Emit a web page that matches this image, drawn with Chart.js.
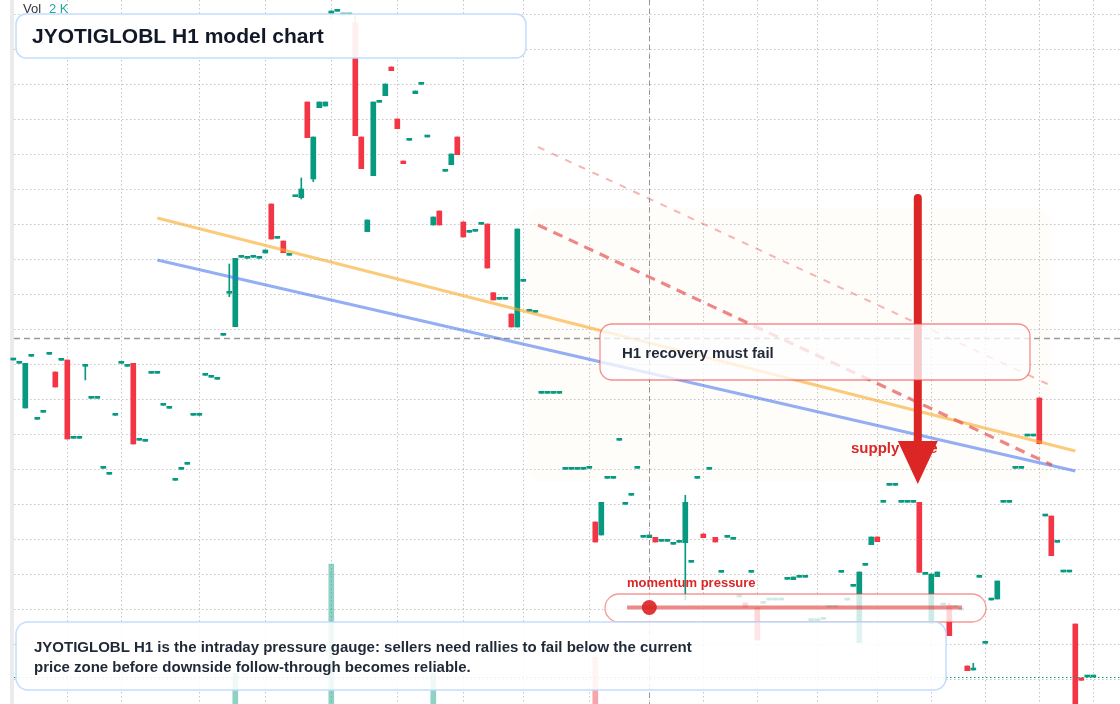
<!DOCTYPE html>
<html>
<head>
<meta charset="utf-8">
<title>JYOTIGLOBL H1 model chart</title>
<script src="https://cdn.jsdelivr.net/npm/chart.js@4.4.1/dist/chart.umd.min.js"></script>
<style>
  html, body { margin: 0; padding: 0; background: #fff; }
  #wrap { width: 1120px; height: 704px; position: relative; }
</style>
</head>
<body>
<div id="wrap"><canvas id="chart" width="1120" height="704"></canvas></div>
<script>
'use strict';

const UP = '#089981', DOWN = '#f23645';

// candle open / close per hourly bar (index = bar number)
const opens = [
  84.0, 83.67, 79.2, 84.37, 78.07, 78.77, 84.57, 82.8, 83.97, 84.0,
  76.17, 76.17, 83.37, 80.17, 80.17, 73.17, 72.57, 78.47, 83.67, 83.37,
  83.67, 75.97, 75.87, 82.67, 82.67, 79.47, 79.17, 71.97, 73.07, 73.57,
  78.47, 78.47, 82.47, 82.27, 82.07, 86.47, 90.67, 87.33, 94.27, 94.17,
  94.27, 94.17, 94.7, 99.6, 96.17, 95.9, 94.47, 100.33, 100.23, 109.8,
  102.1, 109.23, 109.4, 118.63, 118.87, 118.5, 118.5, 117.73, 106.3, 96.83,
  102.43, 109.77, 110.43, 113.3, 108.1, 103.9, 105.97, 110.63, 111.57, 106.3,
  97.5, 98.9, 102.87, 103.53, 106.3, 97.8, 96.77, 96.87, 97.57, 97.6,
  90.73, 90.07, 90.07, 88.6, 87.3, 91.87, 88.87, 88.77, 80.67, 80.67,
  80.67, 80.67, 73.07, 73.07, 73.07, 73.07, 73.17, 67.8, 66.5, 72.17,
  72.17, 75.97, 69.57, 70.47, 73.17, 66.27, 66.23, 66.27, 65.87, 65.87,
  65.57, 65.77, 65.73, 63.77, 72.17, 66.6, 73.07, 66.27, 62.77, 66.27,
  66.07, 60.3, 59.7, 62.77, 59.23, 59.67, 60.0, 60.0, 60.0, 62.07,
  62.03, 62.27, 62.27, 57.93, 57.93, 58.07, 59.27, 59.27, 62.77, 60.0,
  61.37, 55.73, 63.47, 65.53, 66.3, 69.77, 71.47, 71.47, 69.77, 69.77,
  69.77, 69.77, 62.57, 57.67, 62.33, 59.5, 59.47, 59.27, 59.0, 53.4,
  53.0, 62.27, 55.67, 60.0, 60.1, 69.77, 69.77, 73.17, 73.17, 76.4,
  76.4, 80.2, 68.4, 68.4, 65.77, 62.8, 62.8, 57.6, 52.2, 52.3, 52.3
];
const closes = [
  84.0, 83.67, 83.67, 84.37, 78.07, 78.77, 84.57, 81.3, 83.97, 76.1,
  76.17, 76.17, 83.37, 80.17, 80.17, 73.17, 72.57, 78.47, 83.67, 83.37,
  75.6, 75.97, 75.87, 82.67, 82.67, 79.47, 79.17, 71.97, 73.07, 73.57,
  78.47, 78.47, 82.47, 82.27, 82.07, 86.47, 90.67, 94.17, 94.27, 94.17,
  94.27, 94.17, 95.0, 96.1, 96.17, 94.73, 94.47, 100.33, 101.1, 106.23,
  106.3, 109.8, 109.8, 118.9, 118.87, 118.5, 118.5, 106.43, 103.13, 98.0,
  109.8, 109.77, 111.6, 112.93, 107.13, 103.63, 105.97, 110.9, 111.57, 106.3,
  98.3, 97.5, 102.87, 104.6, 104.53, 96.3, 96.77, 96.87, 97.57, 93.2,
  90.0, 90.07, 90.07, 87.3, 97.1, 91.87, 88.87, 88.77, 80.67, 80.67,
  80.67, 80.67, 73.07, 73.07, 73.07, 73.07, 73.17, 65.8, 69.77, 72.17,
  72.17, 75.97, 69.57, 70.47, 73.17, 66.27, 66.5, 65.8, 65.87, 65.87,
  65.57, 65.77, 69.77, 63.77, 72.17, 66.23, 73.07, 65.8, 62.77, 66.27,
  66.07, 60.3, 59.3, 62.77, 56.0, 59.67, 60.0, 60.0, 60.0, 62.07,
  62.3, 62.27, 62.27, 57.93, 57.93, 58.07, 59.27, 59.27, 62.77, 60.0,
  61.37, 62.8, 63.47, 66.3, 65.83, 69.77, 71.47, 71.47, 69.77, 69.77,
  69.77, 62.77, 62.57, 62.6, 62.8, 59.5, 56.43, 59.27, 59.0, 52.93,
  53.0, 62.27, 55.67, 60.0, 61.9, 69.77, 69.77, 73.17, 73.17, 76.4,
  76.4, 75.63, 68.4, 64.43, 65.77, 62.8, 62.8, 49.0, 51.97, 52.3, 52.3
];
// bars whose wicks poke out of the body
const wickIdx  = [12, 36, 48, 50, 53, 57, 112, 156, 160];
const wickHigh = [83.5, 93.6, 102.2, 106.3, 118.9, 118.5, 70.47, 59.67, 53.67];
const wickLow  = [82.0, 90.33, 100.1, 101.83, 118.2, 106.43, 60.0, 56.43, 53.0];

// volume (only the visible spikes)
const volIdx = [37, 53, 70, 97];
const volume = [440, 2000, 440, 670];

// drawn levels
const trendX = [24, 177];
const orangeTrend = [98.2, 74.9];
const blueTrend = [94.0, 72.9];
const fadeX = [87.45, 173.1];
const fadeUpper = [105.3, 81.4];
const fadeLower = [97.5, 73.5];
const zoneX = [85.6, 173.1];
const zonePrice = [99.2, 71.8];
const arrowX = 150.75, arrowFrom = 100.2, arrowTo = 71.6;
const crossIdx = 106, crossPrice = 86.2, lastPrice = 52.3;
const momentumX = [102.3, 158.1];

// session separators and price grid
const gridIdx = [9, 18, 31, 42, 53, 64, 75, 85, 96, 106, 115, 124, 134, 144, 153, 162, 171, 180];
const gridStart = 52.1, gridStep = 3.5;

const idx = opens.map((_, i) => i);
const highs = idx.map(i => Math.max(opens[i], closes[i]));
const lows = idx.map(i => Math.min(opens[i], closes[i]));
wickIdx.forEach((k, j) => { highs[k] = wickHigh[j]; lows[k] = wickLow[j]; });
const colorOf = i => closes[i] >= opens[i] ? UP : DOWN;

function rr(ctx, x, y, w, h, r) {
  ctx.beginPath();
  ctx.moveTo(x + r, y);
  ctx.arcTo(x + w, y, x + w, y + h, r);
  ctx.arcTo(x + w, y + h, x, y + h, r);
  ctx.arcTo(x, y + h, x, y, r);
  ctx.arcTo(x, y, x + w, y, r);
  ctx.closePath();
}
function seg(ctx, x1, y1, x2, y2) {
  ctx.beginPath(); ctx.moveTo(x1, y1); ctx.lineTo(x2, y2); ctx.stroke();
}

const FONT = '"Liberation Sans", Arial, Helvetica, sans-serif';

const overlay = {
  id: 'overlay',
  beforeDatasetsDraw(chart) {
    const { ctx, scales: { x, y } } = chart;
    const W = chart.width, H = chart.height;
    ctx.save();
    ctx.fillStyle = '#ebebeb';
    ctx.fillRect(10, 0, 4, H);

    // supply zone shading
    const zx0 = x.getPixelForValue(zoneX[0]), zx1 = x.getPixelForValue(zoneX[1]);
    const zy0 = y.getPixelForValue(zonePrice[0]), zy1 = y.getPixelForValue(zonePrice[1]);
    ctx.fillStyle = 'rgba(245,158,11,0.018)';
    rr(ctx, zx0, zy0, zx1 - zx0, zy1 - zy0, 16);
    ctx.fill();

    // dotted grid
    ctx.strokeStyle = 'rgba(0,0,0,0.22)';
    ctx.lineWidth = 1;
    ctx.setLineDash([1.5, 2.5]);
    gridIdx.forEach(k => {
      const px = Math.round(x.getPixelForValue(k)) + 0.5;
      seg(ctx, px, 0, px, H);
    });
    for (let p = gridStart; p <= y.max; p += gridStep) {
      const py = Math.round(y.getPixelForValue(p)) + 0.5;
      seg(ctx, 14, py, W, py);
    }
    ctx.restore();
  },
  afterDatasetsDraw(chart) {
    const { ctx, scales: { x, y } } = chart;
    const W = chart.width, H = chart.height;
    ctx.save();

    // last price line
    const ly = Math.round(y.getPixelForValue(lastPrice)) + 0.5;
    ctx.strokeStyle = UP; ctx.lineWidth = 1.2; ctx.setLineDash([1.5, 2.5]);
    seg(ctx, 14, ly, W, ly);

    // crosshair
    const cx = Math.round(x.getPixelForValue(crossIdx)) + 0.5;
    const cy = Math.round(y.getPixelForValue(crossPrice)) + 0.5;
    ctx.strokeStyle = 'rgba(120,120,120,0.75)';
    ctx.setLineDash([5, 4]); ctx.lineWidth = 1;
    seg(ctx, cx, 0, cx, H);
    ctx.lineWidth = 1.4; ctx.setLineDash([6, 4]);
    seg(ctx, 14, cy, W, cy);
    ctx.setLineDash([]);

    // supply zone label, under the arrow head
    ctx.font = 'bold 15px ' + FONT;
    ctx.fillStyle = '#dc2626';
    ctx.textBaseline = 'middle';
    ctx.fillText('supply zone', 851, 449);

    // arrow
    const ax = x.getPixelForValue(arrowX);
    const ay0 = y.getPixelForValue(arrowFrom), ay1 = y.getPixelForValue(arrowTo);
    ctx.strokeStyle = '#dc2626'; ctx.fillStyle = '#dc2626';
    ctx.lineWidth = 8; ctx.lineCap = 'round';
    seg(ctx, ax, ay0, ax, ay1 - 40);
    ctx.lineCap = 'butt';
    ctx.beginPath();
    ctx.moveTo(ax - 20, ay1 - 43); ctx.lineTo(ax + 20, ay1 - 43); ctx.lineTo(ax, ay1);
    ctx.closePath(); ctx.fill();

    // callout box
    rr(ctx, 600, 324, 430, 56, 12);
    ctx.fillStyle = 'rgba(255,255,255,0.76)'; ctx.fill();
    ctx.strokeStyle = 'rgba(239,68,68,0.6)'; ctx.lineWidth = 1.3; ctx.stroke();
    ctx.fillStyle = '#1f2937';
    ctx.font = 'bold 15px ' + FONT;
    ctx.fillText('H1 recovery must fail', 622, 354);

    // momentum pill
    ctx.font = 'bold 13px ' + FONT;
    ctx.fillStyle = '#dc2626';
    ctx.fillText('momentum pressure', 627, 583);
    rr(ctx, 605, 594, 381, 28, 14);
    ctx.fillStyle = 'rgba(255,255,255,0.8)'; ctx.fill();
    ctx.strokeStyle = 'rgba(239,68,68,0.55)'; ctx.lineWidth = 1.3; ctx.stroke();
    ctx.strokeStyle = 'rgba(220,38,38,0.55)'; ctx.lineWidth = 4;
    seg(ctx, x.getPixelForValue(momentumX[0]), 607.5, x.getPixelForValue(momentumX[1]), 607.5);
    ctx.fillStyle = 'rgba(220,38,38,0.92)';
    ctx.beginPath(); ctx.arc(x.getPixelForValue(crossIdx), 607.5, 7.5, 0, Math.PI * 2); ctx.fill();

    // title box
    rr(ctx, 16, 14, 510, 44, 10);
    ctx.fillStyle = 'rgba(255,255,255,0.92)'; ctx.fill();
    ctx.strokeStyle = 'rgba(191,219,254,0.95)'; ctx.lineWidth = 1.5; ctx.stroke();
    ctx.fillStyle = '#111827';
    ctx.font = 'bold 21px ' + FONT;
    ctx.fillText('JYOTIGLOBL H1 model chart', 32, 37);

    // note box
    rr(ctx, 16, 622, 930, 68, 12);
    ctx.fillStyle = 'rgba(255,255,255,0.88)'; ctx.fill();
    ctx.strokeStyle = 'rgba(191,219,254,0.95)'; ctx.lineWidth = 1.5; ctx.stroke();
    ctx.fillStyle = '#1f2937';
    ctx.font = 'bold 15px ' + FONT;
    ctx.fillText('JYOTIGLOBL H1 is the intraday pressure gauge: sellers need rallies to fail below the current', 34, 648);
    ctx.fillText('price zone before downside follow-through becomes reliable.', 34, 668);

    // volume legend
    ctx.font = '13px ' + FONT;
    ctx.fillStyle = '#333';
    ctx.fillText('Vol', 23, 9);
    ctx.fillStyle = '#26a69a';
    ctx.fillText('2 K', 49, 9);
    ctx.restore();
  }
};

const lineSet = (xs, ys, color, width, dash, order) => ({
  type: 'line',
  data: xs.map((v, i) => ({ x: v, y: ys[i] })),
  borderColor: color, borderWidth: width, borderDash: dash,
  pointRadius: 0, fill: false, order
});

new Chart(document.getElementById('chart'), {
  type: 'bar',
  data: {
    datasets: [
      {
        yAxisID: 'yv',
        data: volIdx.map((k, j) => ({ x: k, y: volume[j] })),
        backgroundColor: volIdx.map(k => colorOf(k) === UP ? 'rgba(8,153,129,0.45)' : 'rgba(242,54,69,0.45)'),
        barThickness: 5, grouped: false, order: 10
      },
      {
        data: idx.map(i => ({ x: i, y: [lows[i], highs[i]] })),
        backgroundColor: idx.map(colorOf),
        barThickness: 1, grouped: false, order: 9
      },
      {
        data: idx.map(i => ({ x: i, y: [opens[i], closes[i]] })),
        backgroundColor: idx.map(colorOf),
        barThickness: 5, minBarLength: 2, grouped: false, order: 8
      },
      lineSet(trendX, orangeTrend, 'rgba(249,168,37,0.6)', 3, [], 4),
      lineSet(trendX, blueTrend, 'rgba(59,110,235,0.55)', 3, [], 3),
      lineSet(fadeX, fadeUpper, 'rgba(236,110,110,0.5)', 2, [7, 8], 2),
      lineSet(fadeX, fadeLower, 'rgba(228,70,70,0.65)', 3.2, [10, 7], 1)
    ]
  },
  options: {
    responsive: false,
    animation: false,
    events: [],
    layout: { padding: 0 },
    plugins: { legend: { display: false }, tooltip: { enabled: false } },
    scales: {
      x: { type: 'linear', min: -2.2167, max: 184.45, offset: false, display: false },
      y: { type: 'linear', min: 49.6, max: 120, beginAtZero: false, display: false },
      yv: { type: 'linear', min: 0, max: 10057, display: false }
    }
  },
  plugins: [overlay]
});
</script>
</body>
</html>
